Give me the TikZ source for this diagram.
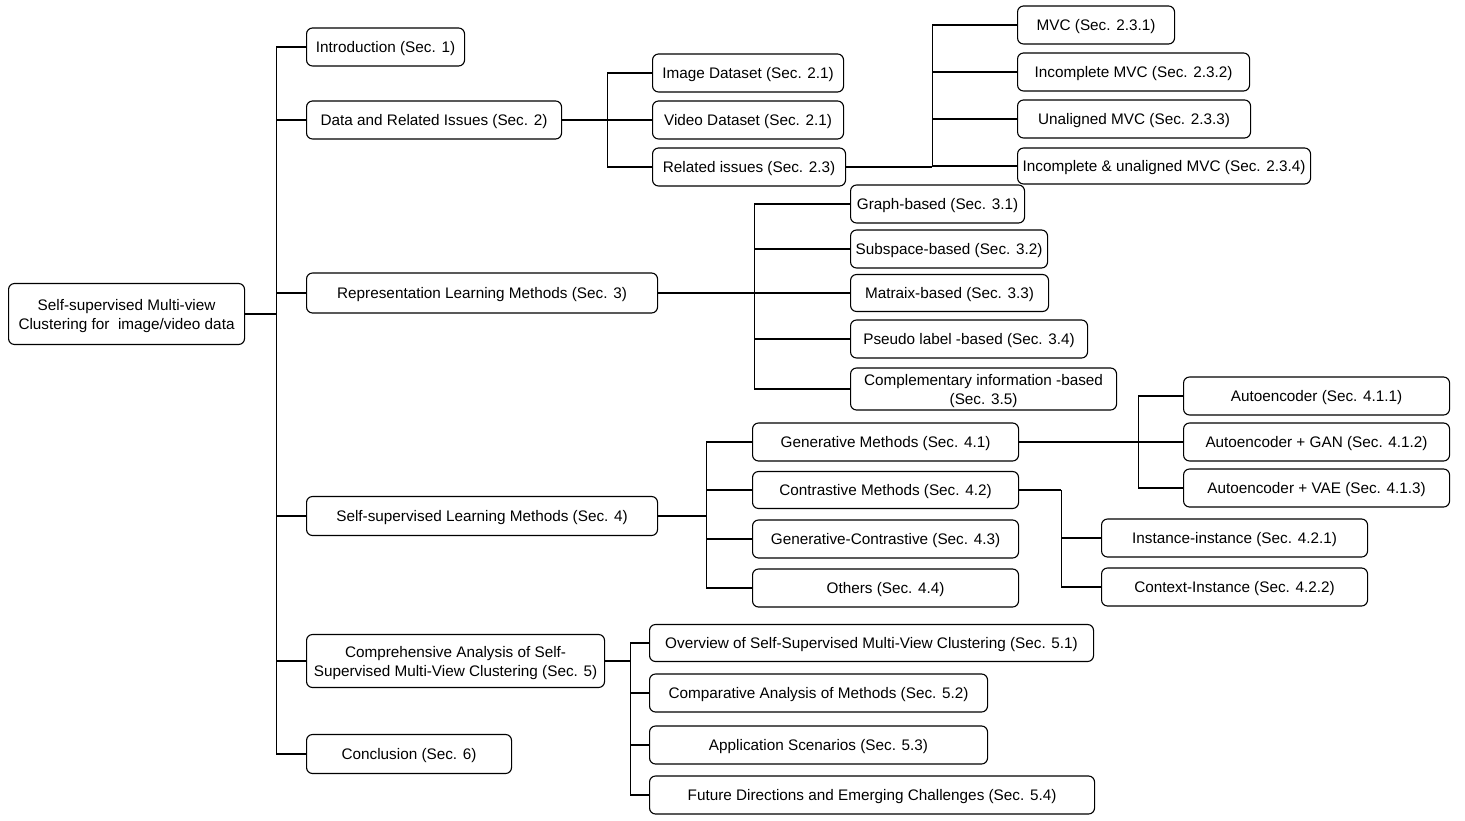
\documentclass[tikz,border=0pt]{standalone}
\usepackage{fontspec}
\setmainfont{Liberation Sans}

\begin{document}
\begin{tikzpicture}[
    x=1pt, y=-1pt,
    every node/.style={font=\fontsize{15.3}{19}\selectfont},
    box/.style={draw, line width=1.1pt, rounded corners=6pt, minimum height=38pt, align=center, anchor=west, inner sep=2pt, text height=11.5pt, text depth=0pt},
    twoline/.style={text height=30.5pt},
    link/.style={line width=1.1pt},
    stem/.style={line width=1.8pt}
]
\useasboundingbox (0,0) rectangle (1465,821);

% root and first level
\node[box, twoline, minimum width=236pt, minimum height=61pt] (Root) at (8,314) {Self-supervised Multi-view\\Clustering for\ \ image/video data};
\node[box, minimum width=158pt] (Intro) at (306,47) {Introduction (Sec. 1)};
\node[box, minimum width=255pt] (Data) at (306,120) {Data and Related Issues (Sec. 2)};
\node[box, minimum width=351pt, minimum height=40pt] (Repr) at (306,293) {Representation Learning Methods (Sec. 3)};
\node[box, minimum width=351pt, minimum height=39pt] (SSL) at (306,516) {Self-supervised Learning Methods (Sec. 4)};
\node[box, twoline, minimum width=298pt, minimum height=53pt] (Comp) at (306,661) {Comprehensive Analysis of Self-\\Supervised Multi-View Clustering (Sec. 5)};
\node[box, minimum width=205pt, minimum height=39pt] (Concl) at (306,754) {Conclusion (Sec. 6)};

% Sec. 2
\node[box, minimum width=191pt] (Image) at (652,73) {Image Dataset (Sec. 2.1)};
\node[box, minimum width=191pt] (Video) at (652,120) {Video Dataset (Sec. 2.1)};
\node[box, minimum width=193pt] (Related) at (652,167) {Related issues (Sec. 2.3)};
\node[box, minimum width=157pt] (MVC) at (1017,25) {MVC (Sec. 2.3.1)};
\node[box, minimum width=232pt] (IncMVC) at (1017,72) {Incomplete MVC (Sec. 2.3.2)};
\node[box, minimum width=233pt] (UnMVC) at (1017,119) {Unaligned MVC (Sec. 2.3.3)};
\node[box, minimum width=293pt, minimum height=36pt] (IncUn) at (1017,166) {Incomplete \& unaligned MVC (Sec. 2.3.4)};

% Sec. 3
\node[box, minimum width=174pt] (Graph) at (850,204) {Graph-based (Sec. 3.1)};
\node[box, minimum width=197pt] (Subspace) at (850,249) {Subspace-based (Sec. 3.2)};
\node[box, minimum width=198pt, minimum height=37pt] (Matraix) at (850,293) {Matraix-based (Sec. 3.3)};
\node[box, minimum width=237pt] (Pseudo) at (850,339) {Pseudo label -based (Sec. 3.4)};
\node[box, twoline, minimum width=266pt, minimum height=42pt] (Compl) at (850,389) {Complementary information -based\\(Sec. 3.5)};

% Sec. 4
\node[box, minimum width=266pt] (Gen) at (752,442) {Generative Methods (Sec. 4.1)};
\node[box, minimum width=266pt, minimum height=37pt] (Contr) at (752,490) {Contrastive Methods (Sec. 4.2)};
\node[box, minimum width=266pt] (GenC) at (752,539) {Generative-Contrastive (Sec. 4.3)};
\node[box, minimum width=266pt] (Others) at (752,588) {Others (Sec. 4.4)};
\node[box, minimum width=266pt] (AE) at (1183,396) {Autoencoder (Sec. 4.1.1)};
\node[box, minimum width=266pt] (GAN) at (1183,442) {Autoencoder + GAN (Sec. 4.1.2)};
\node[box, minimum width=266pt] (VAE) at (1183,488) {Autoencoder + VAE (Sec. 4.1.3)};
\node[box, minimum width=266pt] (Inst) at (1101,538) {Instance-instance (Sec. 4.2.1)};
\node[box, minimum width=266pt] (Ctx) at (1101,587) {Context-Instance (Sec. 4.2.2)};

% Sec. 5
\node[box, minimum width=444pt, minimum height=37pt] (Overview) at (649,643) {Overview of Self-Supervised Multi-View Clustering (Sec. 5.1)};
\node[box, minimum width=338pt] (Compar) at (649,693) {Comparative Analysis of Methods (Sec. 5.2)};
\node[box, minimum width=338pt] (Appl) at (649,745) {Application Scenarios (Sec. 5.3)};
\node[box, minimum width=445pt] (Future) at (649,795) {Future Directions and Emerging Challenges (Sec. 5.4)};

% connectors
\draw[stem] (Root.east) -- ++(31,0) coordinate (trunk);
\foreach \n in {Intro,Data,Repr,SSL,Comp,Concl} \draw[link] (trunk) |- (\n.west);
\draw[stem] (Data.east) -- ++(45,0) coordinate (dbus);
\foreach \n in {Image,Video,Related} \draw[link] (dbus) |- (\n.west);
\draw[stem] (Related.east) -- ++(86,0) coordinate (rbus);
\foreach \n in {MVC,IncMVC,UnMVC,IncUn} \draw[link] (rbus) |- (\n.west);
\draw[stem] (Repr.east) -- ++(96,0) coordinate (pbus);
\foreach \n in {Graph,Subspace,Matraix,Pseudo,Compl} \draw[link] (pbus) |- (\n.west);
\draw[stem] (SSL.east) -- ++(48,0) coordinate (sbus);
\foreach \n in {Gen,Contr,GenC,Others} \draw[link] (sbus) |- (\n.west);
\draw[link] (Gen.east) -- ++(119,0) coordinate (gbus);
\foreach \n in {AE,GAN,VAE} \draw[link] (gbus) |- (\n.west);
\draw[link] (Contr.east) -- ++(42,0) coordinate (cbus);
\foreach \n in {Inst,Ctx} \draw[link] (cbus) |- (\n.west);
\draw[stem] (Comp.east) -- ++(25,0) coordinate (abus);
\foreach \n in {Overview,Compar,Appl,Future} \draw[link] (abus) |- (\n.west);
\end{tikzpicture}
\end{document}
